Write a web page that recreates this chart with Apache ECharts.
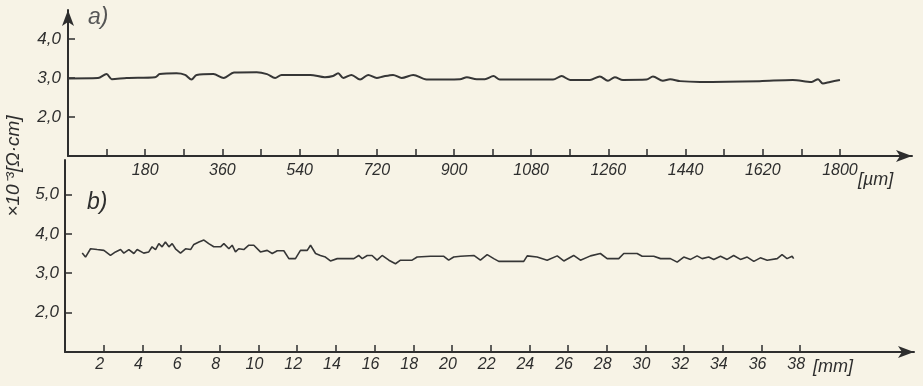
<!DOCTYPE html>
<html lang="en">
<head>
    <meta charset="UTF-8">
    <title>Resistivity profile</title>
    <style>
        *{ padding:0; margin:0; }
        html, body{ width:100%; height:100%; background:#f7f3e6; }
        #main{ width:923px; height:386px; }
    </style>
    <script src="https://cdn.jsdelivr.net/npm/echarts@6/dist/echarts.min.js"></script>
</head>
<body>
<div id="main"></div>
<script>
    // a) profile, x in um
    var aX = [0, 70, 90, 102, 137, 203, 214, 253, 273, 288, 300, 339, 363, 387, 440, 464, 483, 498, 565, 599,
        618, 630, 642, 661, 681, 700, 720, 735, 758, 778, 805, 836, 914, 930, 953, 972, 992, 1007, 1131, 1151,
        1171, 1217, 1240, 1259, 1275, 1294, 1349, 1364, 1387, 1404, 1427, 1474, 1613, 1690, 1734, 1749, 1760, 1777, 1800];
    var aY = [2.99, 3.0, 3.1, 2.97, 3.0, 3.02, 3.1, 3.12, 3.08, 2.96, 3.08, 3.1, 3.0, 3.14, 3.15, 3.1, 3.0, 3.08, 3.08, 3.02,
        3.05, 3.12, 3.0, 3.08, 2.96, 3.08, 3.0, 3.04, 3.08, 3.0, 3.08, 2.96, 2.97, 3.02, 2.97, 2.97, 3.05, 2.96, 2.96, 3.05,
        2.95, 2.95, 3.04, 2.93, 3.02, 2.95, 2.96, 3.04, 2.93, 2.97, 2.92, 2.9, 2.92, 2.95, 2.9, 2.97, 2.86, 2.9, 2.95];

    // b) profile, x in mm
    var bX = [0.89, 1.06, 1.32, 1.66, 2.01, 2.35, 2.61, 2.87, 3.04, 3.30, 3.56, 3.73, 4.07, 4.33, 4.5, 4.68, 4.85, 5.02, 5.19, 5.37,
        5.54, 5.71, 5.97, 6.23, 6.49, 6.66, 6.92, 7.18, 7.43, 7.69, 8.04, 8.21, 8.47, 8.64, 8.81, 8.98, 9.24, 9.5, 9.76, 10.1,
        10.45, 10.71, 10.97, 11.31, 11.57, 11.91, 12.17, 12.52, 12.69, 12.95, 13.2, 13.46, 13.72, 14.07, 14.93, 15.18, 15.36, 15.62, 15.87, 16.13,
        16.39, 16.74, 17.08, 17.34, 17.94, 18.2, 18.89, 19.58, 19.83, 20.09, 20.44, 21.13, 21.47, 21.82, 22.16, 22.42, 23.71, 23.89, 24.4, 24.92,
        25.44, 25.78, 26.29, 26.64, 27.16, 27.67, 28.02, 28.62, 28.88, 29.57, 29.83, 30.43, 30.78, 31.29, 31.64, 31.98, 32.33, 32.67, 32.93, 33.27,
        33.53, 33.88, 34.22, 34.56, 34.91, 35.26, 35.6, 35.94, 36.29, 36.81, 37.06, 37.32, 37.58, 37.66];
    var bY = [3.51, 3.41, 3.62, 3.6, 3.58, 3.45, 3.54, 3.6, 3.51, 3.6, 3.5, 3.6, 3.51, 3.54, 3.67, 3.6, 3.75, 3.67, 3.79, 3.67,
        3.75, 3.62, 3.51, 3.62, 3.6, 3.73, 3.79, 3.84, 3.75, 3.67, 3.67, 3.75, 3.62, 3.71, 3.54, 3.62, 3.6, 3.71, 3.71, 3.54,
        3.58, 3.5, 3.57, 3.57, 3.37, 3.37, 3.58, 3.58, 3.71, 3.5, 3.45, 3.41, 3.31, 3.37, 3.37, 3.45, 3.37, 3.45, 3.45, 3.33,
        3.45, 3.33, 3.24, 3.33, 3.33, 3.41, 3.43, 3.43, 3.33, 3.41, 3.43, 3.45, 3.33, 3.47, 3.37, 3.3, 3.3, 3.44, 3.41, 3.33,
        3.44, 3.31, 3.45, 3.33, 3.44, 3.5, 3.37, 3.37, 3.5, 3.5, 3.43, 3.43, 3.37, 3.37, 3.28, 3.41, 3.35, 3.44, 3.37, 3.41,
        3.35, 3.43, 3.35, 3.45, 3.35, 3.41, 3.3, 3.39, 3.33, 3.37, 3.47, 3.37, 3.43, 3.37];

    var aTicks = [90, 180, 270, 360, 450, 540, 630, 720, 810, 900, 990, 1080, 1170, 1260, 1350, 1440, 1530, 1620, 1710, 1800];
    var aLabels = [180, 360, 540, 720, 900, 1080, 1260, 1440, 1620, 1800];
    var bTicks = [2, 4, 6, 8, 10, 12, 14, 16, 18, 20, 22, 24, 26, 28, 30, 32, 34, 36, 38];
    var aYLabels = [2, 3, 4];
    var bYLabels = [2, 3, 4, 5];

    function pairs(xs, ys) {
        return xs.map(function (x, i) { return [x, ys[i]]; });
    }

    var ink = '#2e2e2e';
    var font = 'Liberation Sans';
    var comma = function (v) { return v.toFixed(1).replace('.', ','); };
    var plain = function (v) { return String(v); };

    var myChart = echarts.init(document.getElementById('main'));
    var option = {
        backgroundColor: '#f7f3e6',
        animation: false,
        grid: [
            {left: 68, top: 10, width: 844, height: 146},
            {left: 65, top: 160, width: 849, height: 192}
        ],
        xAxis: [{
            gridIndex: 0, type: 'value', min: 0, max: 1968,
            splitLine: {show: false},
            axisLine: {lineStyle: {color: ink, width: 2}, symbol: ['none', 'arrow'], symbolSize: [9, 16]},
            axisTick: {inside: true, length: 7, lineStyle: {color: ink, width: 1.5}, customValues: aTicks},
            axisLabel: {
                customValues: aLabels, margin: 7, color: ink, fontSize: 16,
                fontStyle: 'italic', fontFamily: font, formatter: plain
            }
        }, {
            gridIndex: 1, type: 'value', min: 0, max: 43.88,
            splitLine: {show: false},
            axisLine: {lineStyle: {color: ink, width: 2}, symbol: ['none', 'arrow'], symbolSize: [9, 16]},
            axisTick: {inside: true, length: 7, lineStyle: {color: ink, width: 1.5}, customValues: bTicks},
            axisLabel: {
                customValues: bTicks, margin: 5, color: ink, fontSize: 16,
                fontStyle: 'italic', fontFamily: font, padding: [0, 8, 0, 0], formatter: plain
            }
        }],
        yAxis: [{
            gridIndex: 0, type: 'value', min: 1, max: 4.744,
            splitLine: {show: false},
            axisLine: {lineStyle: {color: ink, width: 2}, symbol: ['none', 'arrow'], symbolSize: [9, 16]},
            axisTick: {inside: true, length: 7, lineStyle: {color: ink, width: 1.5}, customValues: aYLabels},
            axisLabel: {
                customValues: aYLabels, margin: 7, color: ink, fontSize: 17,
                fontStyle: 'italic', fontFamily: font, formatter: comma
            }
        }, {
            gridIndex: 1, type: 'value', min: 1, max: 5.873,
            splitLine: {show: false},
            axisLine: {lineStyle: {color: ink, width: 2}},
            axisTick: {inside: true, length: 7, lineStyle: {color: ink, width: 1.5}, customValues: bYLabels},
            axisLabel: {
                customValues: bYLabels, margin: 6, color: ink, fontSize: 17,
                fontStyle: 'italic', fontFamily: font, formatter: comma
            }
        }],
        series: [{
            type: 'line', xAxisIndex: 0, yAxisIndex: 0,
            data: pairs(aX, aY),
            symbol: 'none', smooth: 0.3,
            lineStyle: {color: '#363636', width: 2}
        }, {
            type: 'line', xAxisIndex: 1, yAxisIndex: 1,
            data: pairs(bX, bY),
            symbol: 'none',
            lineStyle: {color: '#363636', width: 1.6}
        }],
        graphic: [
            {type: 'text', x: 88, y: 6, style: {text: 'a)', fill: '#555', fontSize: 23, fontStyle: 'italic', fontFamily: font}},
            {type: 'text', x: 87, y: 191, style: {text: 'b)', fill: ink, fontSize: 23, fontStyle: 'italic', fontFamily: font}},
            {type: 'text', x: 858, y: 171, style: {text: '[µm]', fill: ink, fontSize: 18, fontStyle: 'italic', fontFamily: font}},
            {type: 'text', x: 813, y: 358, style: {text: '[mm]', fill: ink, fontSize: 18, fontStyle: 'italic', fontFamily: font}},
            {type: 'text', x: 14, y: 166, rotation: Math.PI / 2,
                style: {text: '×10⁻³[Ω·cm]', fill: ink, fontSize: 19, fontStyle: 'italic', fontFamily: font,
                    align: 'center', verticalAlign: 'middle'}}
        ]
    };
    myChart.setOption(option);
</script>
</body>
</html>
